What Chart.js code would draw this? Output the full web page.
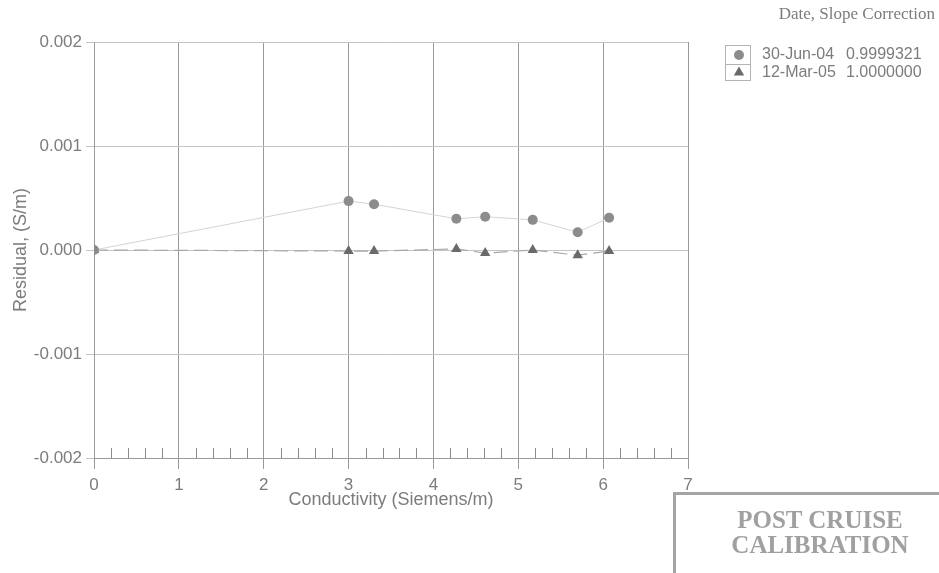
<!DOCTYPE html>
<html>
<head>
<meta charset="utf-8">
<script src="https://cdn.jsdelivr.net/npm/chart.js@4/dist/chart.umd.min.js"></script>
<style>
    body { margin: 0; background: #fff; }
    #wrap { position: relative; width: 939px; height: 573px; overflow: hidden; }
    #stamp {
        position: absolute; left: 673px; top: 492px; width: 294px; height: 110px;
        border: 3px solid #a4a4a4; box-sizing: border-box; padding-top: 12px;
        font-family: "Liberation Serif", serif; font-weight: bold; font-size: 25px;
        color: #a0a0a0; line-height: 25px; text-align: center; white-space: nowrap;
    }
</style>
</head>
<body>
<div id="wrap">
    <canvas id="residuals" width="939" height="573"></canvas>
    <div id="stamp">POST CRUISE<br>CALIBRATION</div>
</div>
<script>
// Values
const conductivity = [0, 3.0, 3.30, 4.27, 4.61, 5.17, 5.70, 6.07];
const residualJun04 = [0, 0.00047, 0.00044, 0.00030, 0.00032, 0.00029, 0.00017, 0.00031];
const residualMar05 = [0, -0.00001, -0.00001, 0.00001, -0.00003, 0, -0.00005, -0.00001];
const seriesDates = ["30-Jun-04", "12-Mar-05"];
const slopeCorrections = ["0.9999321", "1.0000000"];
const xTicks = [0, 1, 2, 3, 4, 5, 6, 7];
const yTicks = [-0.002, -0.001, 0, 0.001, 0.002];

const textGrey = '#7c7c7c';
const sans = '"Liberation Sans", Arial, sans-serif';

/**
 * Builds the {x, y} points for one series.
 */
function points (xs, ys) {
    return xs.map((x, i) => ({ x: x, y: ys[i] }));
}

/**
 * Small ticks standing up from the bottom of the plot, 5 per unit.
 */
const minorTicks = {
    id: 'minorTicks',
    beforeDatasetsDraw (chart) {
        let ctx = chart.ctx, x = chart.scales.x, area = chart.chartArea;
        ctx.save();
        ctx.strokeStyle = '#8a8a8a';
        ctx.lineWidth = 1;
        ctx.beginPath();
        for (let i = 0; i < 35; i++) {
            if (i % 5 === 0) continue;
            let px = Math.round(x.getPixelForValue(i / 5)) + 0.5;
            ctx.moveTo(px, area.bottom);
            ctx.lineTo(px, area.bottom - 10);
        }
        ctx.stroke();
        ctx.restore();
    }
};

/**
 * Legend table with its "Date, Slope Correction" heading.
 */
const sheetLegend = {
    id: 'sheetLegend',
    afterDraw (chart) {
        let ctx = chart.ctx;
        ctx.save();
        ctx.fillStyle = textGrey;
        ctx.font = '17px "Liberation Serif", serif';
        ctx.textAlign = 'right';
        ctx.textBaseline = 'middle';
        ctx.fillText('Date, Slope Correction', 935, 15);

        ctx.strokeStyle = '#b4b4b4';
        ctx.lineWidth = 1;
        ctx.strokeRect(725.5, 45.5, 25, 35);
        ctx.beginPath();
        ctx.moveTo(725.5, 64.5);
        ctx.lineTo(750.5, 64.5);
        ctx.stroke();

        ctx.font = '16px ' + sans;
        ctx.textAlign = 'left';
        chart.data.datasets.forEach((ds, i) => {
            let y = 55 + i * 17.5;
            ctx.fillStyle = ds.backgroundColor;
            ctx.strokeStyle = ds.backgroundColor;
            Chart.helpers.drawPoint(ctx, { pointStyle: ds.pointStyle, radius: ds.pointRadius, borderWidth: 0 }, 739, y);
            ctx.fillStyle = textGrey;
            ctx.fillText(seriesDates[i], 762, y);
            ctx.fillText(slopeCorrections[i], 846, y);
        });
        ctx.restore();
    }
};

function loadChart () {
    let ctx = document.getElementById('residuals').getContext('2d');

    new Chart(ctx, {
        type: 'scatter',
        data: {
            datasets: [{
                label: seriesDates[0],
                data: points(conductivity, residualJun04),
                showLine: true,
                borderColor: '#d4d4d4',
                borderWidth: 1,
                backgroundColor: '#8c8c8c',
                pointBorderWidth: 0,
                pointStyle: 'circle',
                pointRadius: 5
            }, {
                label: seriesDates[1],
                data: points(conductivity, residualMar05),
                showLine: true,
                borderColor: '#a8a8a8',
                borderWidth: 1.2,
                borderDash: [14, 6],
                backgroundColor: '#6a6a6a',
                pointBorderWidth: 0,
                pointStyle: 'triangle',
                pointRadius: 6
            }]
        },
        options: {
            responsive: false,
            animation: false,
            layout: { padding: { top: 42, right: 251, left: 0, bottom: 62 } },
            plugins: { legend: { display: false }, tooltip: { enabled: false } },
            scales: {
                x: {
                    type: 'linear', min: 0, max: 7,
                    afterFit: (s) => { s.height = 53; },
                    afterBuildTicks: (s) => { s.ticks = xTicks.map(v => ({ value: v })); },
                    grid: { color: '#9a9a9a', tickLength: 11 },
                    border: { color: '#9a9a9a' },
                    ticks: { color: textGrey, padding: 6, font: { family: sans, size: 17 } },
                    title: {
                        display: true, text: 'Conductivity (Siemens/m)', color: textGrey,
                        padding: { top: 0, bottom: 0 },
                        font: { family: sans, size: 18 }
                    }
                },
                y: {
                    type: 'linear', min: -0.002, max: 0.002,
                    afterFit: (s) => { s.width = 94; },
                    afterBuildTicks: (s) => { s.ticks = yTicks.map(v => ({ value: v })); },
                    grid: { color: '#c4c4c4', tickLength: 8 },
                    border: { color: '#9a9a9a' },
                    ticks: {
                        color: textGrey, padding: 4,
                        font: { family: sans, size: 17 },
                        callback: (v) => v.toFixed(3)
                    },
                    title: {
                        display: true, text: 'Residual, (S/m)', color: textGrey,
                        padding: { top: 10, bottom: 0 },
                        font: { family: sans, size: 18 }
                    }
                }
            }
        },
        plugins: [minorTicks, sheetLegend]
    });
}

loadChart();
</script>
</body>
</html>
